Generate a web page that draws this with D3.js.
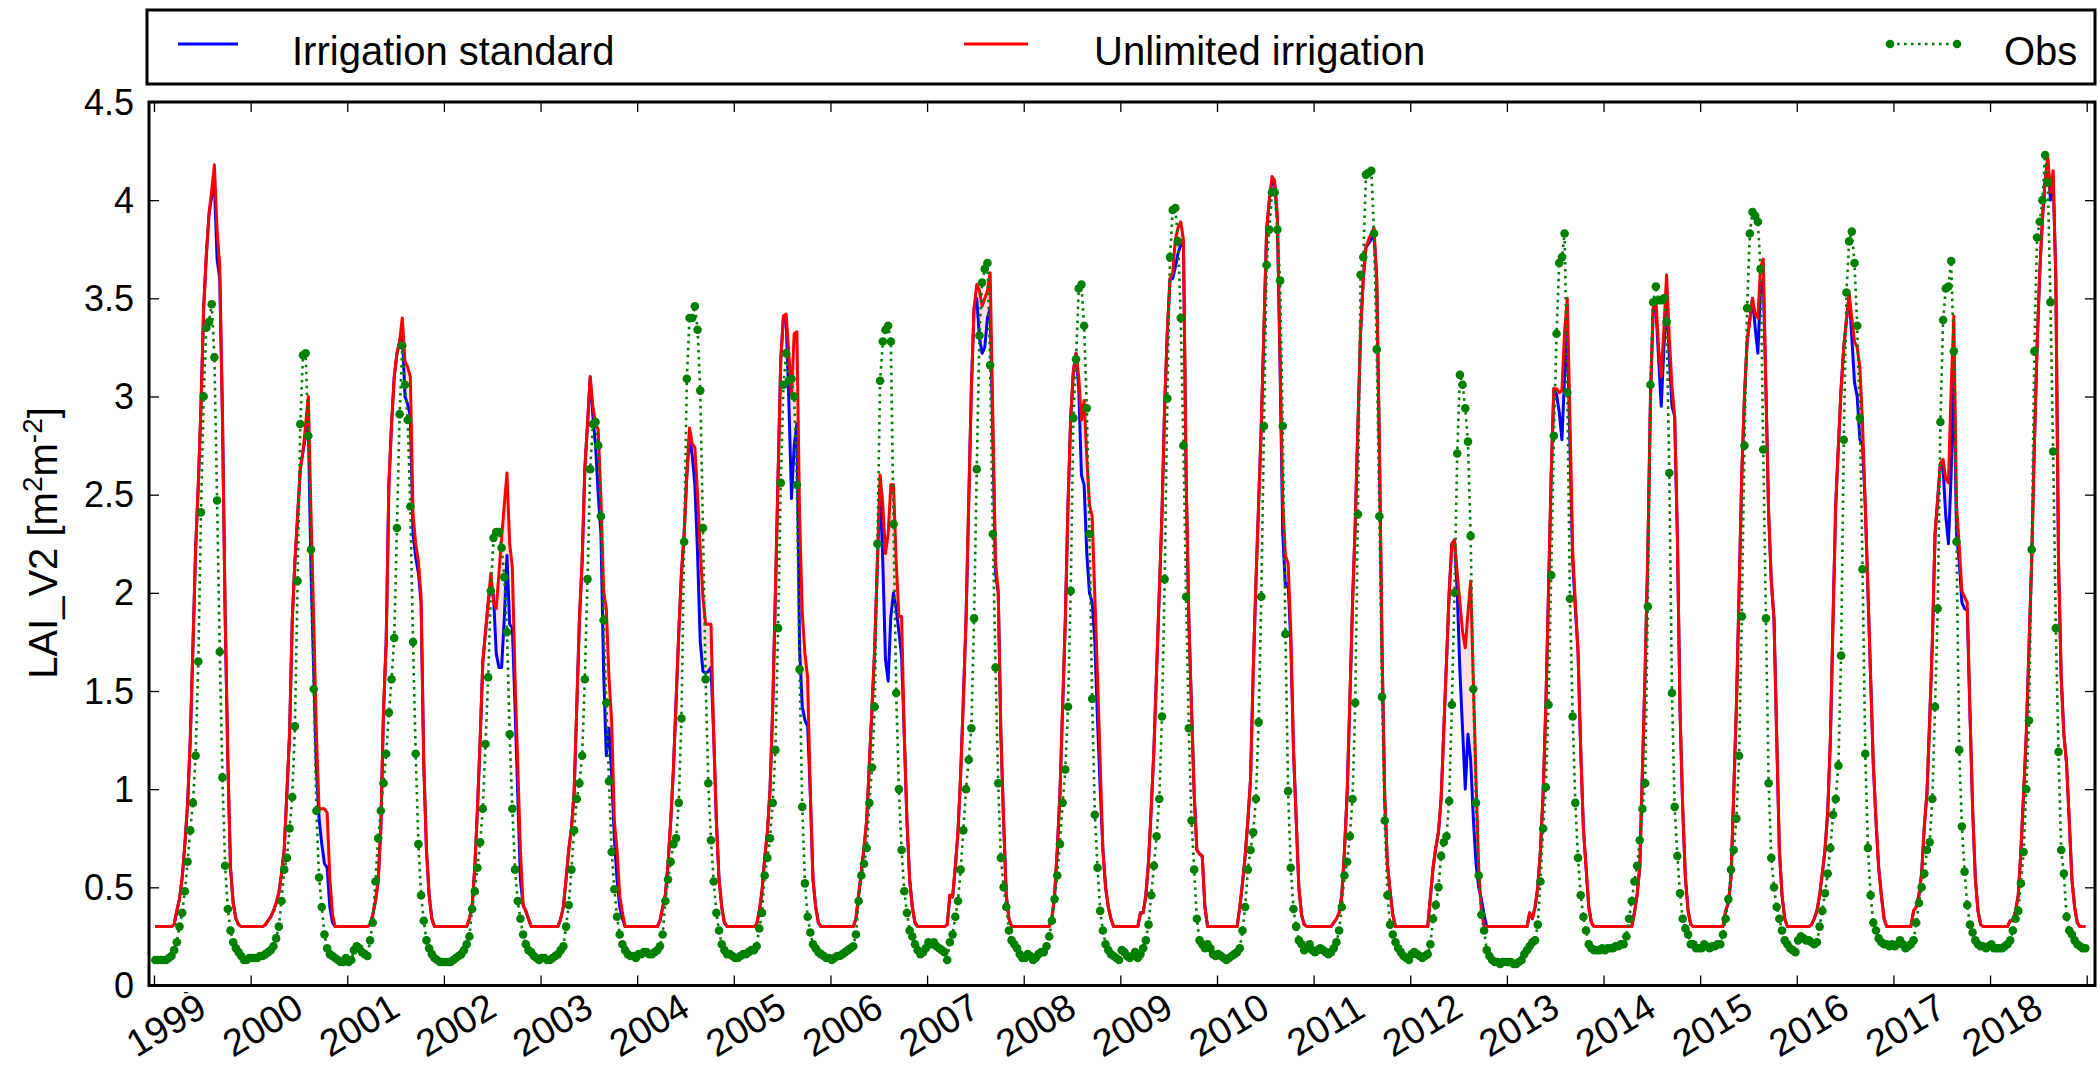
<!DOCTYPE html>
<html><head><meta charset="utf-8">
<script src="https://cdn.jsdelivr.net/npm/d3@7"></script>
<style>body{margin:0;background:#fff}text{font-family:"Liberation Sans",Arial,sans-serif}</style>
</head><body>
<svg id="c" width="2098" height="1066"></svg>
<script>
const years = [1999,2000,2001,2002,2003,2004,2005,2006,2007,2008,2009,2010,2011,2012,2013,2014,2015,2016,2017,2018];
const tickYears = [1999,2000,2001,2002,2003,2004,2005,2006,2007,2008,2009,2010,2011,2012,2013,2014,2015,2016,2017,2018,2019];
const yTicks = [0,0.5,1,1.5,2,2.5,3,3.5,4,4.5];
const yTickLabels = ["0","0.5","1","1.5","2","2.5","3","3.5","4","4.5"];
const seriesNames = ["Irrigation standard","Unlimited irrigation","Obs"];
const stepsPerYear = 36; // dekadal values

const unlimited = [
.30,.30,.30,.30,.30,.30,.30,.31,.38,.44,.55,.72,.92,1.25,1.72,2.22,2.55,2.95,3.45,3.72,3.93,4.05,4.18,3.85,3.66,2.90,1.90,1.15,.60,.42,.34,.31,.30,.30,.30,.30,
.30,.30,.30,.30,.30,.31,.33,.35,.38,.42,.47,.57,.69,.98,1.28,1.86,2.16,2.39,2.63,2.72,2.86,3.00,2.40,1.87,1.28,.90,.90,.90,.88,.55,.36,.30,.30,.30,.30,.30,
.30,.30,.30,.30,.30,.30,.30,.30,.31,.36,.43,.53,.80,1.40,1.75,2.55,2.86,3.10,3.22,3.28,3.40,3.18,3.15,3.10,2.40,2.25,2.16,1.98,1.13,.69,.46,.34,.30,.30,.30,.30,
.30,.30,.30,.30,.30,.30,.30,.30,.30,.34,.40,.60,.90,1.25,1.65,1.80,1.95,2.10,1.95,1.92,2.10,2.28,2.45,2.61,2.25,2.13,1.57,1.13,.69,.41,.38,.34,.30,.30,.30,.30,
.30,.30,.30,.30,.30,.30,.30,.34,.40,.54,.69,.80,.98,1.42,1.87,2.16,2.63,2.86,3.10,2.95,2.86,2.83,2.48,2.01,1.92,1.57,1.34,.84,.69,.46,.37,.30,.30,.30,.30,.30,
.30,.30,.30,.30,.30,.30,.30,.30,.33,.40,.46,.62,.84,1.10,1.45,1.80,2.10,2.30,2.60,2.84,2.76,2.74,2.50,2.22,1.98,1.84,1.84,1.84,1.28,.84,.54,.40,.32,.30,.30,.30,
.30,.30,.30,.30,.30,.30,.30,.30,.31,.38,.48,.65,.78,1.00,1.42,2.00,2.60,3.19,3.41,3.42,3.22,3.01,3.32,3.33,2.40,1.90,1.69,1.57,.98,.54,.40,.32,.30,.30,.30,.30,
.30,.30,.30,.30,.30,.30,.30,.30,.30,.34,.46,.58,.70,.84,1.13,1.42,1.72,2.16,2.60,2.45,2.20,2.30,2.55,2.55,2.16,1.88,1.88,1.28,.84,.54,.40,.32,.30,.30,.30,.30,
.30,.30,.30,.30,.30,.30,.30,.31,.46,.45,.60,.78,1.07,1.45,1.86,2.45,3.04,3.45,3.57,3.54,3.46,3.50,3.54,3.63,2.90,2.16,2.01,1.28,.84,.46,.34,.30,.30,.30,.30,.30,
.30,.30,.30,.30,.30,.30,.30,.30,.30,.30,.34,.46,.69,.98,1.42,1.86,2.45,2.89,3.13,3.22,3.10,2.88,2.98,2.69,2.45,2.39,1.98,1.57,1.13,.69,.50,.40,.34,.30,.30,.30,
.30,.30,.30,.30,.30,.30,.30,.37,.37,.46,.63,.90,1.20,1.60,2.00,2.40,2.95,3.33,3.60,3.63,3.80,3.86,3.89,3.80,2.60,1.87,1.42,.98,.69,.67,.66,.40,.30,.30,.30,.30,
.30,.30,.30,.30,.30,.30,.30,.30,.40,.52,.66,.84,1.05,1.60,2.05,2.45,2.85,3.35,3.85,4.00,4.12,4.10,3.92,3.20,2.45,2.19,2.15,1.80,1.20,.85,.50,.36,.31,.30,.30,.30,
.30,.30,.30,.30,.30,.30,.30,.32,.34,.37,.46,.69,.98,1.45,1.95,2.35,2.85,3.33,3.60,3.76,3.80,3.83,3.86,3.60,2.75,1.70,.95,.62,.48,.36,.30,.30,.30,.30,.30,.30,
.30,.30,.30,.30,.30,.30,.30,.45,.60,.70,.78,.95,1.30,1.65,2.00,2.25,2.27,2.10,1.95,1.80,1.72,1.90,2.06,1.55,1.05,.60,.38,.30,.30,.30,.30,.30,.30,.30,.30,.30,
.30,.30,.30,.30,.30,.30,.30,.30,.37,.34,.40,.50,.69,.98,1.42,2.00,2.60,3.04,3.04,3.02,3.03,3.33,3.50,2.89,2.22,1.95,1.70,1.20,.80,.60,.40,.32,.30,.30,.30,.30,
.30,.30,.30,.30,.30,.30,.30,.30,.30,.30,.30,.37,.46,.60,1.10,1.60,2.20,3.00,3.45,3.50,3.25,3.10,3.35,3.62,3.30,3.05,2.90,2.30,1.40,.90,.55,.38,.31,.30,.30,.30,
.30,.30,.30,.30,.30,.30,.30,.30,.30,.38,.42,.55,.98,1.42,2.00,2.60,3.00,3.28,3.39,3.50,3.42,3.40,3.66,3.70,3.04,2.41,2.06,1.87,1.28,.69,.46,.34,.30,.30,.30,.30,
.30,.30,.30,.30,.30,.31,.34,.38,.46,.57,.69,.88,1.25,1.86,2.45,2.75,3.04,3.25,3.39,3.52,3.40,3.28,3.25,3.15,2.86,2.45,2.01,1.57,1.13,.84,.60,.46,.34,.30,.30,.30,
.30,.30,.30,.30,.30,.30,.30,.38,.40,.46,.57,.81,.98,1.35,1.75,2.30,2.48,2.66,2.68,2.58,2.56,3.04,3.41,2.45,2.24,2.01,1.98,1.95,1.40,.90,.55,.38,.31,.30,.30,.30,
.30,.30,.30,.30,.30,.30,.30,.33,.33,.38,.46,.69,.98,1.28,1.72,2.16,2.75,3.25,3.63,3.90,4.10,4.22,4.04,4.15,3.60,2.16,1.57,1.28,1.13,.84,.54,.40,.32,.30,.30,.30
];

const standard = [
.30,.30,.30,.30,.30,.30,.30,.31,.38,.44,.55,.72,.92,1.25,1.72,2.22,2.55,2.95,3.45,3.72,3.93,4.02,4.08,3.70,3.60,2.90,1.90,1.15,.60,.42,.34,.31,.30,.30,.30,.30,
.30,.30,.30,.30,.30,.31,.33,.35,.38,.42,.47,.57,.69,.98,1.28,1.86,2.16,2.39,2.63,2.72,2.80,2.85,2.10,1.60,1.10,.85,.72,.62,.60,.40,.32,.30,.30,.30,.30,.30,
.30,.30,.30,.30,.30,.30,.30,.30,.31,.36,.43,.53,.80,1.40,1.75,2.55,2.86,3.10,3.22,3.28,3.33,3.00,2.96,2.90,2.30,2.18,2.10,1.95,1.13,.69,.46,.34,.30,.30,.30,.30,
.30,.30,.30,.30,.30,.30,.30,.30,.30,.34,.40,.60,.90,1.25,1.65,1.80,1.95,2.05,1.98,1.69,1.62,1.62,1.87,2.19,1.84,1.82,1.42,.98,.54,.41,.38,.34,.30,.30,.30,.30,
.30,.30,.30,.30,.30,.30,.30,.34,.40,.54,.69,.80,.98,1.42,1.87,2.16,2.63,2.86,3.10,2.90,2.75,2.50,2.30,1.60,1.17,1.31,1.07,.75,.54,.40,.34,.30,.30,.30,.30,.30,
.30,.30,.30,.30,.30,.30,.30,.30,.33,.40,.46,.62,.84,1.10,1.45,1.80,2.10,2.30,2.60,2.80,2.70,2.55,2.20,1.75,1.60,1.59,1.60,1.62,1.28,.84,.54,.40,.32,.30,.30,.30,
.30,.30,.30,.30,.30,.30,.30,.30,.31,.38,.48,.65,.78,1.00,1.42,2.00,2.60,3.19,3.41,3.39,2.98,2.48,2.75,2.86,1.72,1.42,1.35,1.32,.98,.54,.40,.32,.30,.30,.30,.30,
.30,.30,.30,.30,.30,.30,.30,.30,.30,.34,.46,.58,.70,.84,1.13,1.42,1.72,2.16,2.55,2.16,1.66,1.55,1.88,2.00,1.92,1.80,1.68,1.28,.84,.54,.40,.32,.30,.30,.30,.30,
.30,.30,.30,.30,.30,.30,.30,.31,.46,.45,.60,.78,1.07,1.45,1.86,2.45,3.04,3.45,3.50,3.30,3.22,3.25,3.40,3.45,2.80,2.10,2.00,1.28,.84,.46,.34,.30,.30,.30,.30,.30,
.30,.30,.30,.30,.30,.30,.30,.30,.30,.30,.34,.46,.69,.98,1.42,1.86,2.45,2.89,3.13,3.22,3.04,2.60,2.55,2.20,2.00,1.95,1.75,1.35,1.00,.69,.50,.40,.34,.30,.30,.30,
.30,.30,.30,.30,.30,.30,.30,.37,.37,.46,.63,.90,1.20,1.60,2.00,2.40,2.95,3.33,3.60,3.60,3.66,3.73,3.77,3.78,2.60,1.87,1.42,.98,.69,.67,.66,.40,.30,.30,.30,.30,
.30,.30,.30,.30,.30,.30,.30,.30,.40,.52,.66,.84,1.05,1.60,2.05,2.45,2.85,3.35,3.85,4.00,4.10,4.08,3.90,3.15,2.30,2.03,2.05,1.75,1.20,.85,.50,.36,.31,.30,.30,.30,
.30,.30,.30,.30,.30,.30,.30,.32,.34,.37,.46,.69,.98,1.45,1.95,2.35,2.85,3.33,3.60,3.76,3.78,3.80,3.82,3.60,2.75,1.70,.95,.62,.48,.36,.30,.30,.30,.30,.30,.30,
.30,.30,.30,.30,.30,.30,.30,.45,.60,.70,.78,.95,1.30,1.65,2.00,2.25,2.27,2.00,1.60,1.30,1.00,1.28,1.15,.85,.62,.50,.44,.36,.30,.30,.30,.30,.30,.30,.30,.30,
.30,.30,.30,.30,.30,.30,.30,.30,.37,.34,.40,.50,.69,.98,1.42,2.00,2.60,3.04,3.01,2.92,2.78,3.10,3.33,2.75,2.16,1.92,1.70,1.20,.80,.60,.40,.32,.30,.30,.30,.30,
.30,.30,.30,.30,.30,.30,.30,.30,.30,.30,.30,.37,.46,.60,1.10,1.60,2.20,3.00,3.45,3.45,3.20,2.95,3.25,3.50,3.20,2.95,2.90,2.30,1.40,.90,.55,.38,.31,.30,.30,.30,
.30,.30,.30,.30,.30,.30,.30,.30,.30,.38,.42,.55,.98,1.42,2.00,2.60,3.00,3.28,3.39,3.50,3.35,3.22,3.55,3.60,3.04,2.41,2.06,1.87,1.28,.69,.46,.34,.30,.30,.30,.30,
.30,.30,.30,.30,.30,.31,.34,.38,.46,.57,.69,.88,1.25,1.86,2.45,2.75,3.04,3.25,3.39,3.52,3.30,3.07,3.00,2.78,2.75,2.45,2.01,1.57,1.13,.84,.60,.46,.34,.30,.30,.30,
.30,.30,.30,.30,.30,.30,.30,.38,.40,.46,.57,.81,.98,1.35,1.75,2.30,2.48,2.66,2.63,2.39,2.25,2.60,3.15,2.30,2.16,1.95,1.92,1.91,1.40,.90,.55,.38,.31,.30,.30,.30,
.30,.30,.30,.30,.30,.30,.30,.33,.33,.38,.46,.69,.98,1.28,1.72,2.16,2.75,3.25,3.63,3.90,4.10,4.20,4.00,4.12,3.60,2.16,1.57,1.28,1.13,.84,.54,.40,.32,.30,.30,.30
];

const obs = [
.13,.13,.13,.13,.13,.14,.15,.18,.22,.30,.37,.48,.63,.79,.93,1.17,1.65,2.41,3.00,3.35,3.38,3.47,3.20,2.47,1.70,1.06,.61,.39,.28,.22,.19,.17,.15,.13,.13,.14,
.14,.14,.14,.15,.15,.16,.17,.18,.20,.24,.30,.43,.59,.65,.80,.96,1.32,2.06,2.86,3.21,3.22,2.80,2.22,1.51,.89,.55,.40,.26,.19,.16,.15,.14,.13,.12,.12,.14,
.12,.13,.18,.20,.19,.17,.16,.15,.23,.32,.53,.75,.89,1.03,1.18,1.39,1.56,1.77,2.33,2.91,3.26,3.06,2.88,2.44,1.75,1.18,.72,.46,.33,.23,.19,.16,.14,.13,.12,.12,
.12,.12,.12,.13,.14,.15,.16,.18,.21,.25,.39,.48,.60,.73,.90,1.23,1.57,2.01,2.28,2.31,2.31,2.23,2.08,1.80,1.28,.90,.59,.43,.34,.26,.21,.18,.17,.15,.14,.13,
.14,.14,.13,.13,.14,.15,.16,.18,.20,.30,.41,.59,.79,.95,1.03,1.17,1.56,2.07,2.63,2.86,2.87,2.75,2.39,1.86,1.44,1.04,.68,.49,.35,.26,.21,.18,.16,.15,.15,.14,
.16,.16,.17,.17,.16,.16,.17,.18,.20,.26,.43,.54,.63,.72,.75,.93,1.36,2.26,3.09,3.40,3.40,3.46,3.34,3.03,2.33,1.56,1.03,.74,.53,.37,.28,.21,.18,.16,.16,.15,
.14,.14,.15,.16,.16,.17,.18,.18,.20,.29,.37,.56,.65,.75,.93,1.20,1.82,2.56,3.06,3.22,3.08,3.09,3.00,2.55,1.61,.91,.52,.35,.27,.21,.19,.17,.16,.15,.14,.14,
.13,.14,.15,.15,.16,.17,.18,.19,.20,.26,.43,.56,.62,.70,.93,1.11,1.42,2.25,3.08,3.28,3.34,3.36,3.28,2.35,1.49,1.00,.69,.48,.37,.28,.25,.21,.18,.16,.17,.19,
.22,.21,.22,.20,.19,.18,.17,.13,.22,.26,.35,.43,.59,.79,1.00,1.15,1.31,1.87,2.63,3.31,3.58,3.65,3.68,3.16,2.30,1.62,1.03,.65,.50,.40,.28,.23,.21,.19,.16,.14,
.14,.16,.15,.13,.14,.16,.17,.17,.20,.25,.33,.44,.56,.72,.93,1.10,1.42,2.01,2.89,3.19,3.55,3.57,3.36,2.94,2.30,1.46,.87,.60,.38,.28,.21,.18,.16,.15,.14,.13,
.18,.17,.15,.14,.15,.17,.14,.16,.19,.23,.31,.46,.61,.76,.95,1.37,2.07,2.99,3.71,3.95,3.96,3.79,3.40,2.75,1.98,1.31,.84,.59,.34,.23,.21,.19,.21,.19,.16,.15,
.16,.15,.14,.13,.14,.15,.16,.17,.19,.28,.40,.59,.69,.78,.95,1.34,1.98,2.85,3.67,3.85,4.04,4.04,3.85,3.59,2.85,1.79,.99,.60,.39,.30,.23,.21,.18,.19,.21,.18,
.17,.18,.19,.18,.17,.16,.17,.19,.22,.28,.40,.56,.63,.76,.95,1.44,2.40,3.62,3.71,4.13,4.14,4.15,3.83,3.24,2.39,1.47,.84,.46,.31,.26,.22,.19,.17,.15,.14,.13,
.16,.17,.16,.15,.14,.15,.16,.21,.34,.41,.50,.66,.73,.76,.94,1.43,2.00,2.71,3.11,3.06,2.94,2.77,2.29,1.51,.93,.56,.36,.28,.18,.15,.13,.12,.12,.11,.12,.12,
.12,.12,.11,.11,.12,.13,.16,.18,.20,.22,.23,.31,.53,.80,1.01,1.43,2.09,2.80,3.32,3.68,3.71,3.83,3.02,1.97,1.37,.93,.65,.46,.35,.28,.21,.19,.18,.18,.18,.19,
.18,.19,.19,.19,.20,.20,.21,.21,.25,.34,.43,.53,.61,.74,.90,1.03,1.93,3.06,3.48,3.56,3.49,3.49,3.50,3.38,2.61,1.49,.91,.66,.47,.34,.29,.26,.21,.21,.19,.19,
.19,.21,.20,.19,.20,.20,.21,.21,.26,.34,.44,.59,.69,.85,1.17,1.88,2.75,3.45,3.83,3.94,3.92,3.89,3.65,2.73,1.87,1.03,.65,.50,.40,.34,.28,.23,.21,.19,.18,.17,
.23,.25,.24,.23,.23,.22,.21,.22,.30,.38,.47,.57,.70,.87,.95,1.12,1.68,2.78,3.53,3.79,3.84,3.68,3.36,2.89,2.12,1.18,.70,.46,.32,.28,.24,.22,.21,.21,.20,.21,
.20,.21,.23,.21,.19,.20,.21,.23,.32,.42,.50,.57,.69,.73,.95,1.42,1.92,2.87,3.39,3.55,3.56,3.69,3.23,2.26,1.20,.81,.58,.41,.31,.27,.23,.21,.20,.20,.19,.20,
.21,.19,.19,.19,.19,.20,.21,.23,.28,.34,.38,.52,.68,1.00,1.35,2.22,3.23,3.81,3.89,4.00,4.23,4.09,3.48,2.72,1.82,1.19,.69,.57,.35,.28,.26,.23,.21,.20,.19,.19
];

const svg = d3.select("#c");
svg.append("rect").attr("width",2098).attr("height",1066).attr("fill","#fff");

const X0 = 149, X1 = 2095, Y0 = 102, Y1 = 985.5;
const pxPerYear = 96.635;
const x = d3.scaleLinear().domain([1999 - 5/pxPerYear, 2019 + 8.3/pxPerYear]).range([X0, X1]);
const y = d3.scaleLinear().domain([0, 4.5]).range([Y1, Y0]);

const dates = [];
years.forEach(yr => { for (let k = 0; k < stepsPerYear; k++) dates.push(yr + (k + 0.5) / stepsPerYear); });
const rows = dates.map((t, i) => ({t, s: standard[i], u: unlimited[i], o: obs[i]}));

svg.append("clipPath").attr("id","clip").append("rect")
  .attr("x",X0).attr("y",Y0).attr("width",X1-X0).attr("height",Y1-Y0);
const plot = svg.append("g").attr("clip-path","url(#clip)");

plot.append("path").datum(rows)
  .attr("d", d3.area().x(d=>x(d.t)).y0(d=>y(d.s)).y1(d=>y(d.u)))
  .attr("fill","#ffe0e0");

const line = key => d3.line().x(d=>x(d.t)).y(d=>y(d[key]));
plot.append("path").datum(rows).attr("d", line("s"))
  .attr("fill","none").attr("stroke","#0000ff").attr("stroke-width",3).attr("stroke-linejoin","round");
plot.append("path").datum(rows).attr("d", line("u"))
  .attr("fill","none").attr("stroke","#ff0000").attr("stroke-width",3).attr("stroke-linejoin","round");
plot.append("path").datum(rows).attr("d", line("o"))
  .attr("fill","none").attr("stroke","#008000").attr("stroke-width",2.6).attr("stroke-dasharray","2.6 4.4");
plot.selectAll("circle.o").data(rows).join("circle").attr("class","o")
  .attr("cx",d=>x(d.t)).attr("cy",d=>y(d.o)).attr("r",4.3).attr("fill","#008000");

function styleAxis(g){ g.select(".domain").remove(); g.selectAll(".tick line").attr("stroke","#000").attr("stroke-width",1.3); }
svg.append("g").attr("transform",`translate(0,${Y1})`)
  .call(d3.axisBottom(x).tickValues(tickYears).tickSize(-10).tickFormat("")).call(styleAxis);
svg.append("g").attr("transform",`translate(0,${Y0})`)
  .call(d3.axisTop(x).tickValues(tickYears).tickSize(-10).tickFormat("")).call(styleAxis);
svg.append("g").attr("transform",`translate(${X0},0)`)
  .call(d3.axisLeft(y).tickValues(yTicks).tickSize(-10).tickFormat("")).call(styleAxis);
svg.append("g").attr("transform",`translate(${X1},0)`)
  .call(d3.axisRight(y).tickValues(yTicks).tickSize(-10).tickFormat("")).call(styleAxis);

svg.append("rect").attr("x",X0).attr("y",Y0).attr("width",X1-X0).attr("height",Y1-Y0)
  .attr("fill","none").attr("stroke","#000").attr("stroke-width",3);

svg.append("g").selectAll("text").data(yTicks).join("text")
  .attr("x",134).attr("y",d=>y(d)).attr("text-anchor","end").attr("dominant-baseline","central")
  .attr("font-size",36).text((d,i)=>yTickLabels[i]);

svg.append("g").selectAll("text").data(years).join("text")
  .attr("transform",d=>`translate(${x(d)+12},1025) rotate(-31)`)
  .attr("text-anchor","middle").attr("dominant-baseline","central")
  .attr("font-size",38).text(d=>String(d));

// small stray mark under the first tick, as in the reference
svg.append("text").attr("x",186).attr("y",997).attr("text-anchor","middle")
  .attr("font-size",16).text("-");

const yt = svg.append("text").attr("transform","translate(57,543) rotate(-90)")
  .attr("text-anchor","middle").attr("font-size",40);
yt.append("tspan").text("LAI_V2 [m");
yt.append("tspan").attr("baseline-shift","super").attr("font-size",28).text("2");
yt.append("tspan").text("m");
yt.append("tspan").attr("baseline-shift","super").attr("font-size",28).text("-2");
yt.append("tspan").text("]");

const lg = svg.append("g");
lg.append("rect").attr("x",147).attr("y",10).attr("width",1948).attr("height",74)
  .attr("fill","#fff").attr("stroke","#000").attr("stroke-width",3);
lg.append("line").attr("x1",178).attr("x2",238).attr("y1",44).attr("y2",44).attr("stroke","#0000ff").attr("stroke-width",3);
lg.append("text").attr("x",292).attr("y",65).attr("font-size",40).text(seriesNames[0]);
lg.append("line").attr("x1",964).attr("x2",1028).attr("y1",44).attr("y2",44).attr("stroke","#ff0000").attr("stroke-width",3);
lg.append("text").attr("x",1094).attr("y",65).attr("font-size",40).text(seriesNames[1]);
lg.append("line").attr("x1",1890).attr("x2",1957).attr("y1",44).attr("y2",44).attr("stroke","#008000").attr("stroke-width",2.6).attr("stroke-dasharray","2.6 4.4");
lg.selectAll("circle").data([1890,1957]).join("circle").attr("cx",d=>d).attr("cy",44).attr("r",4.3).attr("fill","#008000");
lg.append("text").attr("x",2004).attr("y",65).attr("font-size",40).text(seriesNames[2]);
</script>
</body></html>
